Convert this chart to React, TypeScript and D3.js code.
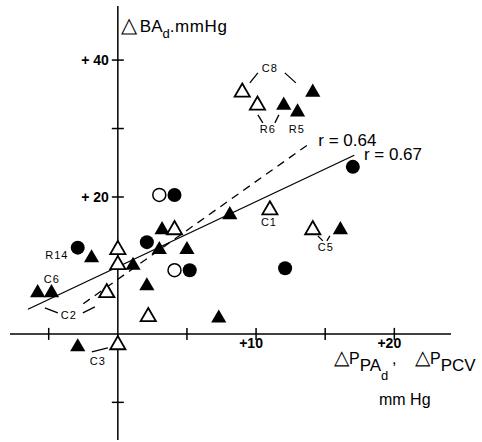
import React, { useEffect, useRef } from "react";
import * as d3 from "d3";

// x: ΔP (mm Hg), y: ΔBA_d (mm Hg)
const filledTriangles = [
  [3.2, 15.2], [3.0, 12.3], [5.0, 12.3], [1.1, 10.0], [-1.9, 11.1],
  [2.1, 7.0], [-5.8, 6.0], [-4.8, 6.0], [7.3, 2.3], [-2.9, -1.9],
  [12.0, 33.4], [13.0, 32.4], [14.1, 35.3], [8.1, 17.4], [16.1, 15.2],
];
const openTriangles = [
  [4.1, 15.2], [0, 12.3], [0, 10.1], [-0.8, 6.0], [2.2, 2.5],
  [0, -1.6], [9.0, 35.3], [10.1, 33.4], [11.0, 18.1], [14.1, 15.2],
];
const filledCircles = [
  [4.1, 20.3], [2.1, 13.4], [-2.9, 12.6], [5.2, 9.3], [17.0, 24.4], [12.1, 9.6],
];
const openCircles = [
  [3.0, 20.3], [4.1, 9.3],
];

const solidFit = [[-6.5, 3.6], [17.1, 26.1]];
const dashedFit = [[-2.5, 4.4], [14.0, 28.0]];

const xTicks = [-5, 5, 10, 15, 20];
const yTicks = [40, 30, 20, 10, -10];
const xTickLabels = [10, 20];
const yTickLabels = [40, 20];

const pointLabels = [
  { t: "C8", x: 11.0, y: 38.3 },
  { t: "R6", x: 10.85, y: 29.4 },
  { t: "R5", x: 12.95, y: 29.4 },
  { t: "C1", x: 10.93, y: 15.8 },
  { t: "C5", x: 15.05, y: 12.1 },
  { t: "R14", x: -4.41, y: 11.0 },
  { t: "C6", x: -4.78, y: 7.45 },
  { t: "C2", x: -3.55, y: 2.2 },
  { t: "C3", x: -1.45, y: -4.5 },
];
const leaders = [
  [[9.55, 36.67], [10.13, 38.13]],
  [[12.08, 38.13], [12.88, 36.67]],
  [[10.13, 31.99], [10.49, 30.83]],
  [[11.65, 31.99], [11.36, 30.83]],
  [[14.47, 14.32], [14.83, 13.59]],
  [[15.34, 14.32], [15.12, 13.59]],
  [[-5.28, 3.8], [-4.34, 3.07]],
  [[-2.53, 3.07], [-1.66, 3.94]],
  [[-1.88, -2.63], [-0.72, -2.05]],
];

function Scatter() {
  const svgRef = useRef(null);

  useEffect(() => {
    const svg = d3.select(svgRef.current);
    svg.selectAll("*").remove();
    const font = "'Liberation Sans', Arial, sans-serif";

    const x = d3.scaleLinear().domain([-7.8, 24.1]).range([10, 451]);
    const y = d3.scaleLinear().domain([-15.5, 47.9]).range([440, 6]);
    const g = svg.append("g");

    // axes
    g.append("line")
      .attr("x1", x(-7.8)).attr("x2", x(24.1))
      .attr("y1", y(0)).attr("y2", y(0))
      .attr("stroke", "#000").attr("stroke-width", 1.5);
    g.append("line")
      .attr("x1", x(0)).attr("x2", x(0))
      .attr("y1", y(47.9)).attr("y2", y(-15.5))
      .attr("stroke", "#000").attr("stroke-width", 1.5);

    g.selectAll(".xt").data(xTicks).enter().append("line")
      .attr("x1", (d) => x(d)).attr("x2", (d) => x(d))
      .attr("y1", y(0) - 6).attr("y2", y(0) + 6)
      .attr("stroke", "#000").attr("stroke-width", 1.5);
    g.selectAll(".yt").data(yTicks).enter().append("line")
      .attr("x1", x(0) - 6).attr("x2", x(0) + 6)
      .attr("y1", (d) => y(d)).attr("y2", (d) => y(d))
      .attr("stroke", "#000").attr("stroke-width", 1.5);

    g.selectAll(".xl").data(xTickLabels).enter().append("text")
      .attr("x", (d) => x(d) - 5).attr("y", y(0) + 14)
      .attr("text-anchor", "middle")
      .attr("font-family", font).attr("font-size", 14).attr("font-weight", "bold")
      .text((d) => "+" + d);
    g.selectAll(".yl").data(yTickLabels).enter().append("text")
      .attr("x", x(0) - 9).attr("y", (d) => y(d) + 5)
      .attr("text-anchor", "end")
      .attr("font-family", font).attr("font-size", 14).attr("font-weight", "bold")
      .text((d) => "+ " + d);

    // regression lines
    const line = d3.line().x((d) => x(d[0])).y((d) => y(d[1]));
    g.append("path").attr("d", line(solidFit))
      .attr("fill", "none").attr("stroke", "#000").attr("stroke-width", 1.3);
    g.append("path").attr("d", line(dashedFit))
      .attr("fill", "none").attr("stroke", "#000").attr("stroke-width", 1.3)
      .attr("stroke-dasharray", "8,6");

    g.append("text").attr("x", x(14.5)).attr("y", y(27.4))
      .attr("font-family", font).attr("font-size", 17).text("r = 0.64");
    g.append("text").attr("x", x(17.8)).attr("y", y(25.4))
      .attr("font-family", font).attr("font-size", 17).text("r = 0.67");

    // leaders and point labels
    g.selectAll(".ld").data(leaders).enter().append("path")
      .attr("d", (d) => line(d))
      .attr("stroke", "#000").attr("stroke-width", 1.3);
    g.selectAll(".pl").data(pointLabels).enter().append("text")
      .attr("x", (d) => x(d.x)).attr("y", (d) => y(d.y))
      .attr("text-anchor", "middle")
      .attr("font-family", font).attr("font-size", 11).attr("letter-spacing", 1)
      .text((d) => d.t);

    // markers
    const tri = d3.symbol(d3.symbolTriangle, 100);
    g.selectAll(".ft").data(filledTriangles).enter().append("path")
      .attr("d", tri)
      .attr("transform", (d) => `translate(${x(d[0])},${y(d[1])})`)
      .attr("fill", "#000");
    g.selectAll(".ot").data(openTriangles).enter().append("path")
      .attr("d", tri)
      .attr("transform", (d) => `translate(${x(d[0])},${y(d[1])})`)
      .attr("fill", "#fff").attr("stroke", "#000").attr("stroke-width", 1.8);
    g.selectAll(".oc").data(openCircles).enter().append("circle")
      .attr("cx", (d) => x(d[0])).attr("cy", (d) => y(d[1])).attr("r", 6.5)
      .attr("fill", "#fff").attr("stroke", "#000").attr("stroke-width", 1.5);
    g.selectAll(".fc").data(filledCircles).enter().append("circle")
      .attr("cx", (d) => x(d[0])).attr("cy", (d) => y(d[1])).attr("r", 7)
      .attr("fill", "#000");

    // axis titles
    const yt = g.append("text").attr("x", x(0) + 3).attr("y", 32)
      .attr("font-family", font).attr("font-size", 17);
    yt.append("tspan").attr("font-size", 21).text("△");
    yt.append("tspan").attr("dx", 3).text("BA");
    yt.append("tspan").attr("dy", 6).attr("font-size", 13).text("d");
    yt.append("tspan").attr("dy", -6).attr("letter-spacing", 0.6).text(".mmHg");

    const xt = g.append("text").attr("x", 334).attr("y", 364)
      .attr("font-family", font).attr("font-size", 16);
    xt.append("tspan").attr("font-size", 20).text("△");
    xt.append("tspan").text("P");
    xt.append("tspan").attr("dy", 7).attr("font-size", 17).text("PA");
    xt.append("tspan").attr("dy", 9).attr("font-size", 13).text("d");
    xt.append("tspan").attr("x", 392).attr("dy", -16).text(",");
    xt.append("tspan").attr("x", 415).attr("font-size", 20).text("△");
    xt.append("tspan").text("P");
    xt.append("tspan").attr("dy", 7).attr("font-size", 17).text("PCV");
    g.append("text").attr("x", 379).attr("y", 405)
      .attr("font-family", font).attr("font-size", 16).text("mm Hg");
  }, []);

  return (
    <svg
      ref={svgRef}
      width="482"
      height="442"
      style={{ position: "absolute", left: 0, top: 0, background: "#fff" }}
    ></svg>
  );
}

export default function App() {
  return <Scatter />;
}
